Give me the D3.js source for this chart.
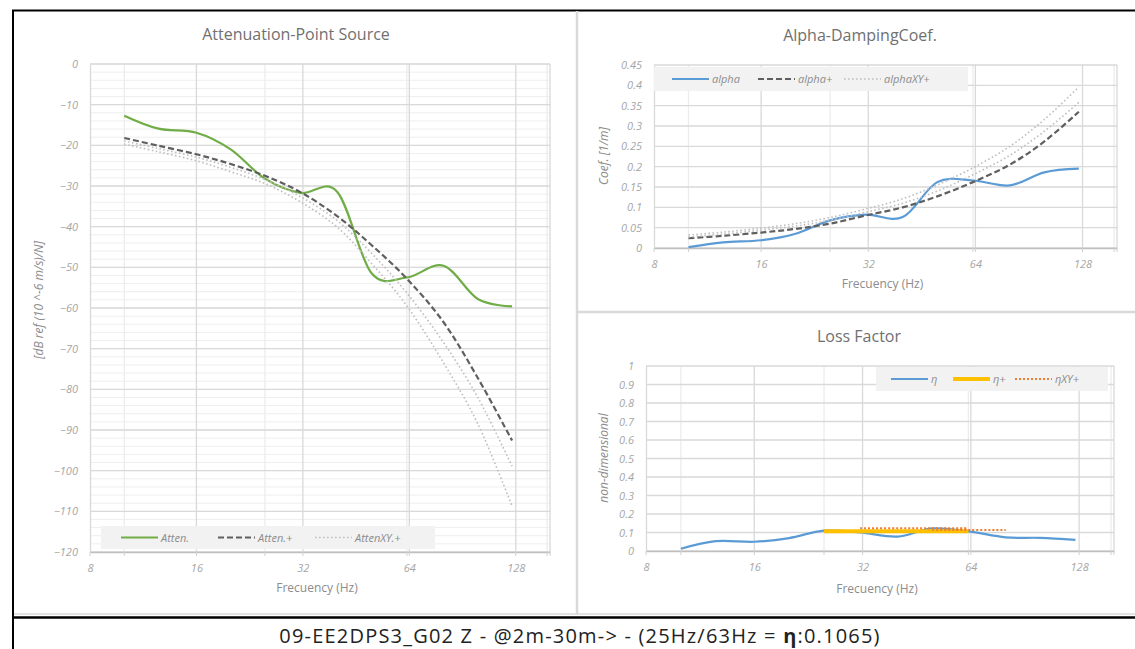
<!DOCTYPE html>
<html><head><meta charset="utf-8">
<script src="https://cdn.jsdelivr.net/npm/d3@7"></script>
<style>body{margin:0;background:#fff;} svg{display:block;font-family:"Open Sans",sans-serif;}</style>
</head><body><svg id="c" width="1135" height="649"></svg>
<script>
// ---------- data ----------
const freqs = [10, 12.5, 16, 20, 25, 31.5, 40, 50, 63, 80, 100, 125];
const xTicks = [8, 16, 32, 64, 128];
const xMinor = [10, 25, 63, 157];

const atten     = [-12.7, -15.9, -16.9, -21.0, -28.2, -31.7, -31.4, -51.4, -52.5, -49.6, -57.8, -59.6];
const attenPlus = [-18.2, -20.1, -22.2, -24.6, -27.5, -31.5, -37.4, -44.5, -52.8, -63.5, -77.2, -92.6];
const attenXY1  = [-18.9, -20.8, -22.9, -25.4, -28.4, -32.6, -38.5, -46.5, -56.3, -68.5, -82.0, -98.9];
const attenXY2  = [-19.7, -21.6, -23.8, -26.5, -29.4, -33.9, -40.1, -49.0, -59.5, -73.5, -88.5, -108.7];
const attenTicks = [0, -10, -20, -30, -40, -50, -60, -70, -80, -90, -100, -110, -120];

const alpha     = [0.002, 0.014, 0.019, 0.035, 0.068, 0.082, 0.076, 0.162, 0.166, 0.154, 0.186, 0.195];
const alphaPlus = [0.024, 0.030, 0.038, 0.047, 0.060, 0.080, 0.100, 0.127, 0.162, 0.205, 0.262, 0.335];
const alphaXY1  = [0.032, 0.039, 0.049, 0.060, 0.075, 0.096, 0.121, 0.155, 0.197, 0.250, 0.316, 0.396];
const alphaXY2  = [0.027, 0.034, 0.044, 0.054, 0.068, 0.088, 0.110, 0.140, 0.180, 0.228, 0.287, 0.358];
const alphaTicks = [0, 0.05, 0.1, 0.15, 0.2, 0.25, 0.3, 0.35, 0.4, 0.45];

const eta = [0.012, 0.053, 0.050, 0.070, 0.110, 0.100, 0.078, 0.122, 0.106, 0.074, 0.071, 0.060];
const etaPlusFreqs = [25, 31.5, 40, 50, 63];
const etaPlus = [0.1065, 0.1065, 0.1065, 0.1065, 0.1065];
const etaXY1Freqs = [31.5, 40, 50, 63];
const etaXY1 = [0.123, 0.123, 0.123, 0.123];
const etaXY2Freqs = [50, 63, 80];
const etaXY2 = [0.113, 0.113, 0.113];
const etaTicks = [0, 0.1, 0.2, 0.3, 0.4, 0.5, 0.6, 0.7, 0.8, 0.9, 1];

const caption = "09-EE2DPS3_G02 Z - @2m-30m-> - (25Hz/63Hz = ";
const captionEta = "η";
const captionEnd = ":0.1065)";

// ---------- styles ----------
const C = {green: "#70AD47", blue: "#5B9BD5", dash: "#5f5f5f", dot: "#BFBFBF", yellow: "#FFC000", orange: "#ED7D31"};
const svg = d3.select("#c");

// frame
svg.append("line").attr("x1", 12).attr("x2", 1135).attr("y1", 10.5).attr("y2", 10.5).attr("stroke", "#000").attr("stroke-width", 2);
svg.append("line").attr("x1", 13).attr("x2", 13).attr("y1", 10).attr("y2", 649).attr("stroke", "#000").attr("stroke-width", 2);
svg.append("line").attr("x1", 577).attr("x2", 577).attr("y1", 11).attr("y2", 614).attr("stroke", "#d9d9d9").attr("stroke-width", 2.5);
svg.append("line").attr("x1", 577).attr("x2", 1135).attr("y1", 312).attr("y2", 312).attr("stroke", "#d9d9d9").attr("stroke-width", 2.5);
svg.append("line").attr("x1", 14).attr("x2", 1135).attr("y1", 614).attr("y2", 614).attr("stroke", "#d9d9d9").attr("stroke-width", 1.5);
svg.append("line").attr("x1", 13).attr("x2", 1135).attr("y1", 617.5).attr("y2", 617.5).attr("stroke", "#000").attr("stroke-width", 2.5);

const cap = svg.append("text").attr("x", 580).attr("y", 643).attr("text-anchor", "middle")
  .attr("font-size", 20).attr("fill", "#222").attr("letter-spacing", 1.2);
cap.append("tspan").text(caption);
cap.append("tspan").attr("font-weight", "bold").text(captionEta);
cap.append("tspan").text(captionEnd);

function panel(o) {
  const g = svg.append("g");
  const x = d3.scaleLog().base(2).domain([8, 160]).range([o.x0, o.x1]);
  const y = d3.scaleLinear().domain([o.ticks[0], o.ticks[o.ticks.length - 1]]).range([o.y1, o.y0]);

  // minor horizontal grid
  if (o.yMinorStep) {
    const mins = d3.range(o.ticks[0], o.ticks[o.ticks.length - 1] + 1e-9, o.yMinorStep);
    g.append("g").selectAll("line").data(mins).join("line")
      .attr("x1", o.x0).attr("x2", o.x1).attr("y1", d => y(d)).attr("y2", d => y(d))
      .attr("stroke", "#eeeeee").attr("stroke-width", 1);
  }
  // vertical minor grid
  g.append("g").selectAll("line").data(xMinor).join("line")
    .attr("x1", d => x(d)).attr("x2", d => x(d)).attr("y1", o.y0).attr("y2", o.y1)
    .attr("stroke", "#ececec").attr("stroke-width", 1.3);
  // horizontal major grid
  g.append("g").selectAll("line").data(o.ticks).join("line")
    .attr("x1", o.x0).attr("x2", o.x1).attr("y1", d => y(d)).attr("y2", d => y(d))
    .attr("stroke", "#d9d9d9").attr("stroke-width", 1.3);
  // vertical major grid
  g.append("g").selectAll("line").data(xTicks.slice(1).concat([160])).join("line")
    .attr("x1", d => x(d)).attr("x2", d => x(d)).attr("y1", o.y0).attr("y2", o.y1)
    .attr("stroke", "#d9d9d9").attr("stroke-width", 1.3);

  // x axis
  const xa = g.append("g").attr("transform", `translate(0,${o.y1})`)
    .call(d3.axisBottom(x).tickValues(xTicks).tickFormat(d3.format("d")).tickSize(0).tickPadding(12));
  xa.select(".domain").attr("stroke", "#bfbfbf").attr("stroke-width", 1.5);
  xa.selectAll("text").attr("fill", "#a6a6a6").attr("font-size", 11).attr("font-style", "italic").attr("font-family", "Open Sans");
  g.append("g").selectAll("line").data(xTicks.concat(xMinor).concat([160])).join("line")
    .attr("x1", d => x(d)).attr("x2", d => x(d)).attr("y1", o.y1).attr("y2", o.y1 + 4)
    .attr("stroke", "#d0d0d0");
  // y axis
  const ya = g.append("g").attr("transform", `translate(${o.x0},0)`)
    .call(d3.axisLeft(y).tickValues(o.ticks).tickFormat(o.fmt).tickSize(0).tickPadding(12));
  ya.select(".domain").attr("stroke", "#d9d9d9").attr("stroke-width", 1.3);
  ya.selectAll("text").attr("fill", "#a6a6a6").attr("font-size", 11).attr("font-style", "italic").attr("font-family", "Open Sans");

  // titles
  g.append("text").attr("x", o.titleX).attr("y", o.titleY).attr("text-anchor", "middle")
    .attr("font-size", 16).attr("fill", "#707070").text(o.title);
  g.append("text").attr("x", (o.x0 + o.x1) / 2 - 3).attr("y", o.xTitleY).attr("text-anchor", "middle")
    .attr("font-size", 12).attr("fill", "#8c8c8c").text("Frecuency (Hz)");
  g.append("text").attr("transform", `translate(${o.yTitleX},${o.yTitleY}) rotate(-90)`).attr("text-anchor", "middle")
    .attr("font-size", 12).attr("fill", "#8c8c8c").attr("font-style", "italic").text(o.yTitle);

  // legend bg
  const L = o.legend;
  g.append("rect").attr("x", L.x).attr("y", L.y).attr("width", L.w).attr("height", L.h).attr("fill", "#f2f2f2");

  // series
  const line = d3.line().x(d => x(d[0])).y(d => y(d[1])).curve(d3.curveCardinal.tension(0));
  o.series.forEach(s => {
    g.append("path").datum(d3.zip(s.f, s.v)).attr("d", line).attr("fill", "none")
      .attr("stroke", s.color).attr("stroke-width", s.w).attr("stroke-dasharray", s.dash || null)
      .attr("stroke-linecap", s.cap || "butt");
  });
  // legend items
  L.items.forEach((it, i) => {
    const s = o.series[it.s];
    const lx = L.x + L.first + i * L.step;
    const ly = L.y + L.h / 2;
    g.append("line").attr("x1", lx).attr("x2", lx + 37).attr("y1", ly).attr("y2", ly)
      .attr("stroke", s.color).attr("stroke-width", s.w).attr("stroke-dasharray", s.dash || null)
      .attr("stroke-linecap", s.cap || "butt");
    g.append("text").attr("x", lx + 40).attr("y", ly + 4).attr("font-size", 11).attr("fill", "#8c8c8c")
      .attr("font-style", "italic").text(it.label);
  });
}

panel({
  x0: 90, x1: 550, y0: 64, y1: 552, ticks: attenTicks.slice().reverse(), yMinorStep: 2, fmt: d3.format("d"),
  title: "Attenuation-Point Source", titleX: 296, titleY: 40,
  xTitleY: 592, yTitle: "[dB ref (10 ^-6 m/s)/N]", yTitleX: 43, yTitleY: 300,
  legend: {x: 101, y: 526, w: 334, h: 23, first: 20, step: 97,
    items: [{s: 0, label: "Atten."}, {s: 1, label: "Atten.+"}, {s: 2, label: "AttenXY.+"}]},
  series: [
    {f: freqs, v: atten, color: C.green, w: 2.2},
    {f: freqs, v: attenPlus, color: C.dash, w: 2.2, dash: "6,3"},
    {f: freqs, v: attenXY1, color: C.dot, w: 1.6, dash: "1.6,2.4", cap: "butt"},
    {f: freqs, v: attenXY2, color: C.dot, w: 1.6, dash: "1.6,2.4", cap: "butt"}
  ]
});

panel({
  x0: 654, x1: 1117, y0: 65, y1: 248, ticks: alphaTicks, fmt: d => String(+d.toFixed(2)),
  title: "Alpha-DampingCoef.", titleX: 860, titleY: 41,
  xTitleY: 288, yTitle: "Coef. [1/m]", yTitleX: 608, yTitleY: 156,
  legend: {x: 654, y: 67, w: 314, h: 24, first: 18, step: 86,
    items: [{s: 0, label: "alpha"}, {s: 1, label: "alpha+"}, {s: 2, label: "alphaXY+"}]},
  series: [
    {f: freqs, v: alpha, color: C.blue, w: 2.2},
    {f: freqs, v: alphaPlus, color: C.dash, w: 2.2, dash: "6,3"},
    {f: freqs, v: alphaXY1, color: C.dot, w: 1.6, dash: "1.6,2.4"},
    {f: freqs, v: alphaXY2, color: C.dot, w: 1.6, dash: "1.6,2.4"}
  ]
});

panel({
  x0: 646, x1: 1114, y0: 366, y1: 551, ticks: etaTicks, fmt: d => String(+d.toFixed(1)),
  title: "Loss Factor", titleX: 859, titleY: 342,
  xTitleY: 593, yTitle: "non-dimensional", yTitleX: 608, yTitleY: 458,
  legend: {x: 876, y: 367, w: 232, h: 24, first: 15, step: 62,
    items: [{s: 0, label: "η"}, {s: 1, label: "η+"}, {s: 2, label: "ηXY+"}]},
  series: [
    {f: freqs, v: eta, color: C.blue, w: 2.2},
    {f: etaPlusFreqs, v: etaPlus, color: C.yellow, w: 4},
    {f: etaXY1Freqs, v: etaXY1, color: C.orange, w: 2, dash: "2,2"},
    {f: etaXY2Freqs, v: etaXY2, color: C.orange, w: 2, dash: "2,2"}
  ]
});
</script></body></html>
